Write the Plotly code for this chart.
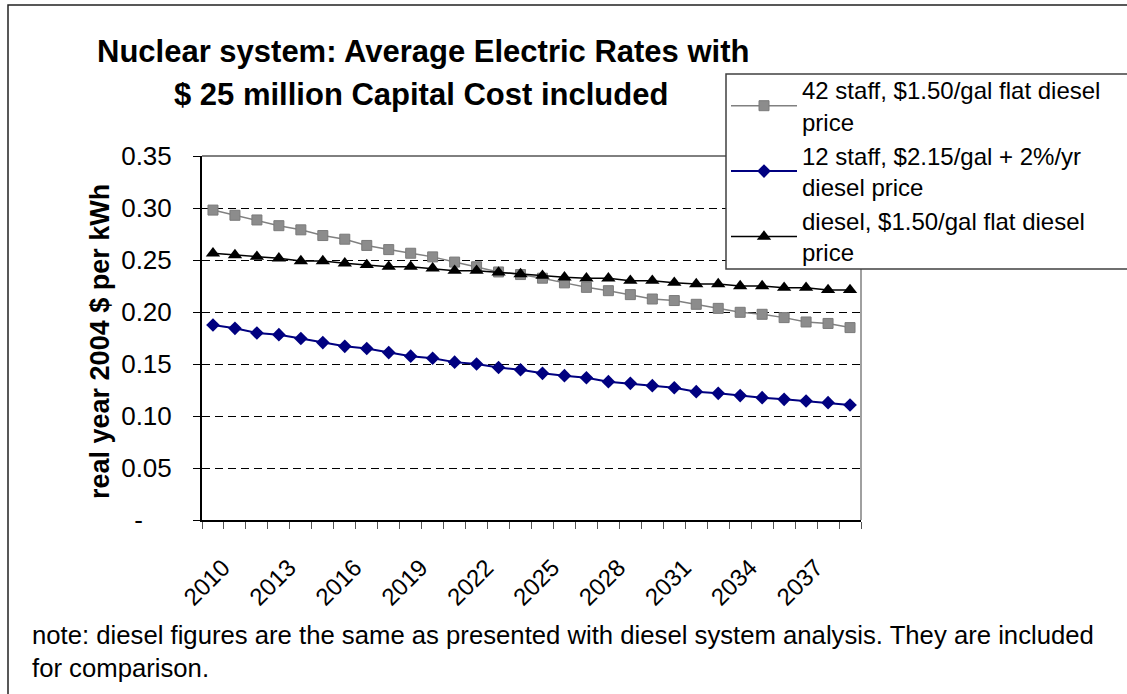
import plotly.graph_objects as go

years = list(range(2010, 2040))
tick_years = [2010, 2013, 2016, 2019, 2022, 2025, 2028, 2031, 2034, 2037]
tick_labels = ["2010", "2013", "2016", "2019", "2022", "2025", "2028", "2031", "2034", "2037"]

y_tickvals = [0, 0.05, 0.10, 0.15, 0.20, 0.25, 0.30, 0.35]
y_ticktext = ["-\u00a0\u00a0\u00a0\u00a0", "0.05", "0.10", "0.15", "0.20", "0.25", "0.30", "0.35"]

staff42_flat = [0.298, 0.293, 0.2885, 0.283, 0.279, 0.2735, 0.270, 0.264, 0.260, 0.2565,
                0.253, 0.248, 0.2435, 0.2385, 0.236, 0.2325, 0.228, 0.2237, 0.2205, 0.2167,
                0.2125, 0.211, 0.2074, 0.2035, 0.1997, 0.1978, 0.1946, 0.1904, 0.189, 0.185]
staff12_escal = [0.1875, 0.1843, 0.1798, 0.1782, 0.1745, 0.1706, 0.167, 0.1649, 0.161, 0.1575,
                 0.1555, 0.1518, 0.150, 0.1466, 0.1445, 0.141, 0.1388, 0.1368, 0.133, 0.1314,
                 0.1292, 0.1272, 0.1234, 0.1218, 0.1196, 0.1176, 0.116, 0.1144, 0.1128, 0.1106]
diesel_flat = [0.2564, 0.2548, 0.2532, 0.2516, 0.249, 0.249, 0.2468, 0.2452, 0.2436, 0.2436,
               0.242, 0.2397, 0.2397, 0.2381, 0.2365, 0.2349, 0.2333, 0.2324, 0.2324, 0.2301,
               0.2301, 0.2282, 0.2269, 0.2269, 0.225, 0.225, 0.2234, 0.2234, 0.2212, 0.2212]

names = ["42 staff, $1.50/gal flat diesel<br>price",
         "12 staff, $2.15/gal + 2%/yr<br>diesel price",
         "diesel, $1.50/gal flat diesel<br>price"]

FONT = "Liberation Sans, Arial, sans-serif"

fig = go.Figure()
fig.add_trace(go.Scatter(x=years, y=staff42_flat, name=names[0], mode="lines+markers",
                         line=dict(color="#808080", width=1.5),
                         marker=dict(symbol="square", size=10, color="#8c8c8c",
                                     line=dict(color="#7a7a7a", width=1))))
fig.add_trace(go.Scatter(x=years, y=staff12_escal, name=names[1], mode="lines+markers",
                         line=dict(color="#000080", width=2),
                         marker=dict(symbol="diamond", size=10.5, color="#000080")))
fig.add_trace(go.Scatter(x=years, y=diesel_flat, name=names[2], mode="lines+markers",
                         line=dict(color="#000000", width=1.5),
                         marker=dict(symbol="triangle-up", size=12.5, color="#000000")))

L, R, T, B = 202, 266, 156, 174
W, H = 1127, 694
pw, ph = W - L - R, H - T - B

def px(xp):
    return (xp - L) / pw

def py(yp):
    return (H - B - yp) / ph

boundaries = [y - 0.5 for y in years] + [years[-1] + 0.5]

fig.update_layout(
    width=W, height=H, autosize=False,
    margin=dict(l=L, r=R, t=T, b=B),
    paper_bgcolor="white", plot_bgcolor="white",
    font=dict(family=FONT, size=24, color="black"),
    showlegend=True,
    legend=dict(x=px(726), y=py(68), xanchor="left", yanchor="top",
                bgcolor="rgba(0,0,0,0)", borderwidth=0,
                font=dict(size=24), itemwidth=66, tracegroupgap=0),
    xaxis=dict(range=[years[0] - 0.5, years[-1] + 0.5], tickmode="array",
               tickvals=tick_years, ticktext=tick_labels, tickangle=-45,
               ticks="", showgrid=False, zeroline=False,
               showline=True, linecolor="black", linewidth=2,
               tickfont=dict(size=24), ticklabelstandoff=22, ticklabelshift=10,
               minor=dict(tickmode="array", tickvals=boundaries, ticks="outside",
                          ticklen=7, tickcolor="#555555", tickwidth=1, showgrid=False)),
    yaxis=dict(range=[0, 0.35], tickmode="array", tickvals=y_tickvals, ticktext=y_ticktext,
               ticks="outside", ticklen=7, tickcolor="black", tickwidth=1,
               showgrid=True, gridcolor="black", gridwidth=1, griddash="8px,5px",
               zeroline=False, showline=True, linecolor="black", linewidth=2,
               tickfont=dict(size=26), ticklabelstandoff=16),
    shapes=[
        dict(type="line", xref="paper", yref="paper", x0=0, x1=1, y0=1, y1=1,
             line=dict(color="black", width=1)),
        dict(type="line", xref="paper", yref="paper", x0=1, x1=1, y0=0, y1=1,
             line=dict(color="#808080", width=1.5)),
        dict(type="rect", xref="paper", yref="paper", x0=px(726), x1=px(1160),
             y0=py(269), y1=py(74), line=dict(color="#404040", width=1.5),
             fillcolor="white", layer="above"),
        dict(type="rect", xref="paper", yref="paper", x0=px(8), x1=px(1140),
             y0=py(710), y1=py(5), line=dict(color="#222222", width=1.5),
             fillcolor="rgba(0,0,0,0)", layer="above"),
    ],
    annotations=[
        dict(text="<b>Nuclear system: Average Electric Rates with</b>", x=px(423), y=py(52),
             xref="paper", yref="paper", xanchor="center", yanchor="middle",
             showarrow=False, font=dict(size=31)),
        dict(text="<b>$ 25 million Capital Cost included</b>", x=px(421), y=py(95),
             xref="paper", yref="paper", xanchor="center", yanchor="middle",
             showarrow=False, font=dict(size=31)),
        dict(text="<b>real year 2004 $ per kWh</b>", x=px(100), y=py(342),
             xref="paper", yref="paper", xanchor="center", yanchor="middle",
             textangle=-90, showarrow=False, font=dict(size=27)),
        dict(text="note: diesel figures are the same as presented with diesel system analysis. They are included<br>for comparison.",
             x=px(30), y=py(651), xref="paper", yref="paper", xanchor="left", yanchor="middle",
             align="left", showarrow=False, font=dict(size=25.7)),
    ],
)

fig.write_html("out.html", config={"displayModeBar": False},
               post_script="document.body.style.margin='0';document.body.style.overflow='hidden';")
